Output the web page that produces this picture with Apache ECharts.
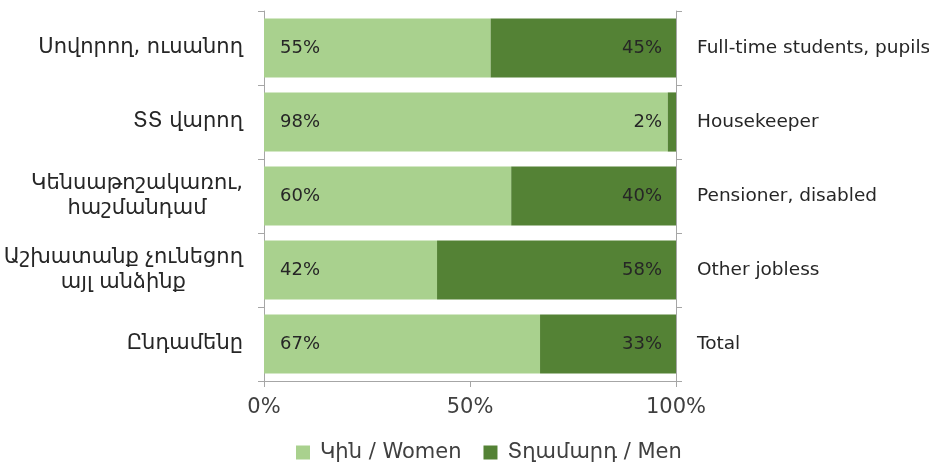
<!DOCTYPE html>
<html>
<head>
<meta charset="utf-8">
<script src="https://cdn.jsdelivr.net/npm/echarts@6/dist/echarts.min.js"></script>
<style>html,body{margin:0;padding:0;background:#fff;}</style>
</head>
<body>
<div id="main" style="width:929px;height:465px;"></div>
<script type="text/javascript">
	// data
	var categories = ['Սովորող, ուսանող', 'ՏՏ վարող', 'Կենսաթոշակառու,\nհաշմանդամ', 'Աշխատանք չունեցող\nայլ անձինք', 'Ընդամենը'];
	var categoriesEn = ['Full-time students, pupils', 'Housekeeper', 'Pensioner, disabled', 'Other jobless', 'Total'];
	var women = [55, 98, 60, 42, 67];
	var men = [45, 2, 40, 58, 33];
	var xTicks = [0, 50, 100];

	var myChart = echarts.init(document.getElementById('main'));
	var font = '"DejaVu Sans", "Noto Sans", sans-serif';
	var option = {
		textStyle: { fontFamily: font },
		animation: false,
		legend: {
			data: ['Կին / Women', 'Տղամարդ / Men'],
			bottom: -3,
			left: 291,
			itemWidth: 14,
			itemHeight: 14,
			itemGap: 22,
			icon: 'rect',
			textStyle: { fontSize: 21, color: '#404040', fontFamily: font, padding: [0, 0, 0, 5] }
		},
		grid: { left: 264, right: 253, top: 11, bottom: 84, outerBoundsMode: 'none' },
		xAxis: {
			type: 'value',
			min: xTicks[0],
			max: xTicks[2],
			interval: 50,
			axisLine: { show: true, lineStyle: { color: '#a6a6a6' } },
			axisTick: { show: true, length: 6, lineStyle: { color: '#a6a6a6' } },
			splitLine: { show: false },
			axisLabel: { formatter: '{value}%', fontSize: 21, color: '#404040', margin: 16 }
		},
		yAxis: [
			{
				type: 'category',
				data: categories,
				inverse: true,
				position: 'left',
				axisLine: { lineStyle: { color: '#a6a6a6' } },
				axisTick: { show: true, length: 6, lineStyle: { color: '#a6a6a6' } },
				axisLabel: {
					fontSize: 21, color: '#262626', margin: 21, align: 'right',
					formatter: function (v) {
						return v.split('\n').map(function (l) { return '{c|' + l + '}'; }).join('\n');
					},
					rich: { c: { align: 'center', fontSize: 21, lineHeight: 25, color: '#262626' } }
				}
			},
			{
				type: 'category',
				data: categoriesEn,
				inverse: true,
				position: 'right',
				axisLine: { lineStyle: { color: '#a6a6a6' } },
				axisTick: { show: true, length: 6, lineStyle: { color: '#a6a6a6' } },
				axisLabel: { fontSize: 18.5, color: '#262626', margin: 21, align: 'left' }
			}
		],
		series: [
			{
				name: 'Կին / Women',
				type: 'bar',
				stack: 'total',
				barCategoryGap: '20%',
				data: women,
				itemStyle: { color: '#a9d18e' },
				label: { show: true, position: 'insideLeft', distance: 16, formatter: '{c}%', fontSize: 18, color: '#262626' }
			},
			{
				name: 'Տղամարդ / Men',
				type: 'bar',
				stack: 'total',
				barCategoryGap: '20%',
				data: men,
				itemStyle: { color: '#548235' },
				label: { show: true, position: 'insideRight', distance: 14, formatter: '{c}%', fontSize: 18, color: '#262626' }
			}
		]
	};
	myChart.setOption(option);
</script>
</body>
</html>
